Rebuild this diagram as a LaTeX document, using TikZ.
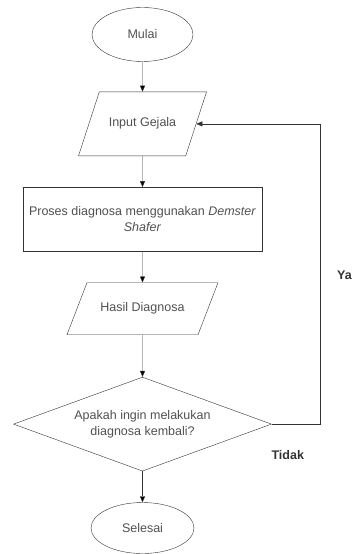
\documentclass[tikz,border=0pt]{standalone}
\usepackage{fontspec}
\setmainfont{Liberation Sans}
\usepackage{xcolor}
\usepackage{tikz}
\usetikzlibrary{shapes.geometric, arrows.meta, positioning}
\definecolor{garis}{HTML}{333333}
\definecolor{teks}{HTML}{505050}

\begin{document}
\begin{tikzpicture}[
    font=\fontsize{12.5}{16}\selectfont,
    terminal/.style = {ellipse, draw=garis, text=teks, minimum width=101pt, minimum height=54pt, inner sep=0pt},
    io/.style = {trapezium, trapezium left angle=72, trapezium right angle=108, trapezium stretches body,
                 draw=garis, text=teks, text height=9pt, text depth=3pt, inner xsep=0pt, inner ysep=26pt,
                 minimum width=128pt},
    proses/.style = {rectangle, draw=garis, text=teks, minimum width=239pt, minimum height=64pt, align=center},
    keputusan/.style = {diamond, aspect=2.74, draw=garis, text=teks, minimum width=258pt, minimum height=94pt,
                        inner sep=0pt, align=center},
    label/.style = {text=garis, font=\fontsize{12.5}{16}\selectfont\bfseries},
    panah/.style = {draw=garis, -{Triangle[length=6pt, width=5pt]}},
    node distance = 30pt
]
    \useasboundingbox (0,0) rectangle (353pt,554pt);

    \node (mulai) [terminal] at (142.5pt,519.5pt) {Mulai};
    \node (input) [io, below = of mulai] {Input Gejala};
    \node (proses) [proses, below = 31pt of input] {Proses diagnosa menggunakan \textit{Demster}\\\textit{Shafer}};
    \node (hasil) [io, minimum width=151pt, inner ysep=20pt, trapezium left angle=69, trapezium right angle=111,
                   below = 31pt of proses] {Hasil Diagnosa};
    \node (tanya) [keputusan, below = 42pt of hasil] {Apakah ingin melakukan\\diagnosa kembali?};
    \node (selesai) [terminal, minimum width=103pt, minimum height=51pt, below = 31pt of tanya] {Selesai};

    \node (ya) [label, anchor=east, inner sep=1pt] at (353pt,279pt) {Ya};
    \node (tidak) [label, anchor=west] at (268pt,99pt) {Tidak};

    \path [panah]
        (mulai) edge (input)
        (input) edge (proses)
        (proses) edge (hasil)
        (hasil) edge (tanya)
        (tanya) edge (selesai);
    \draw [panah] (tanya.east) -- ++(48pt,0) |- (input.east);
\end{tikzpicture}
\end{document}
